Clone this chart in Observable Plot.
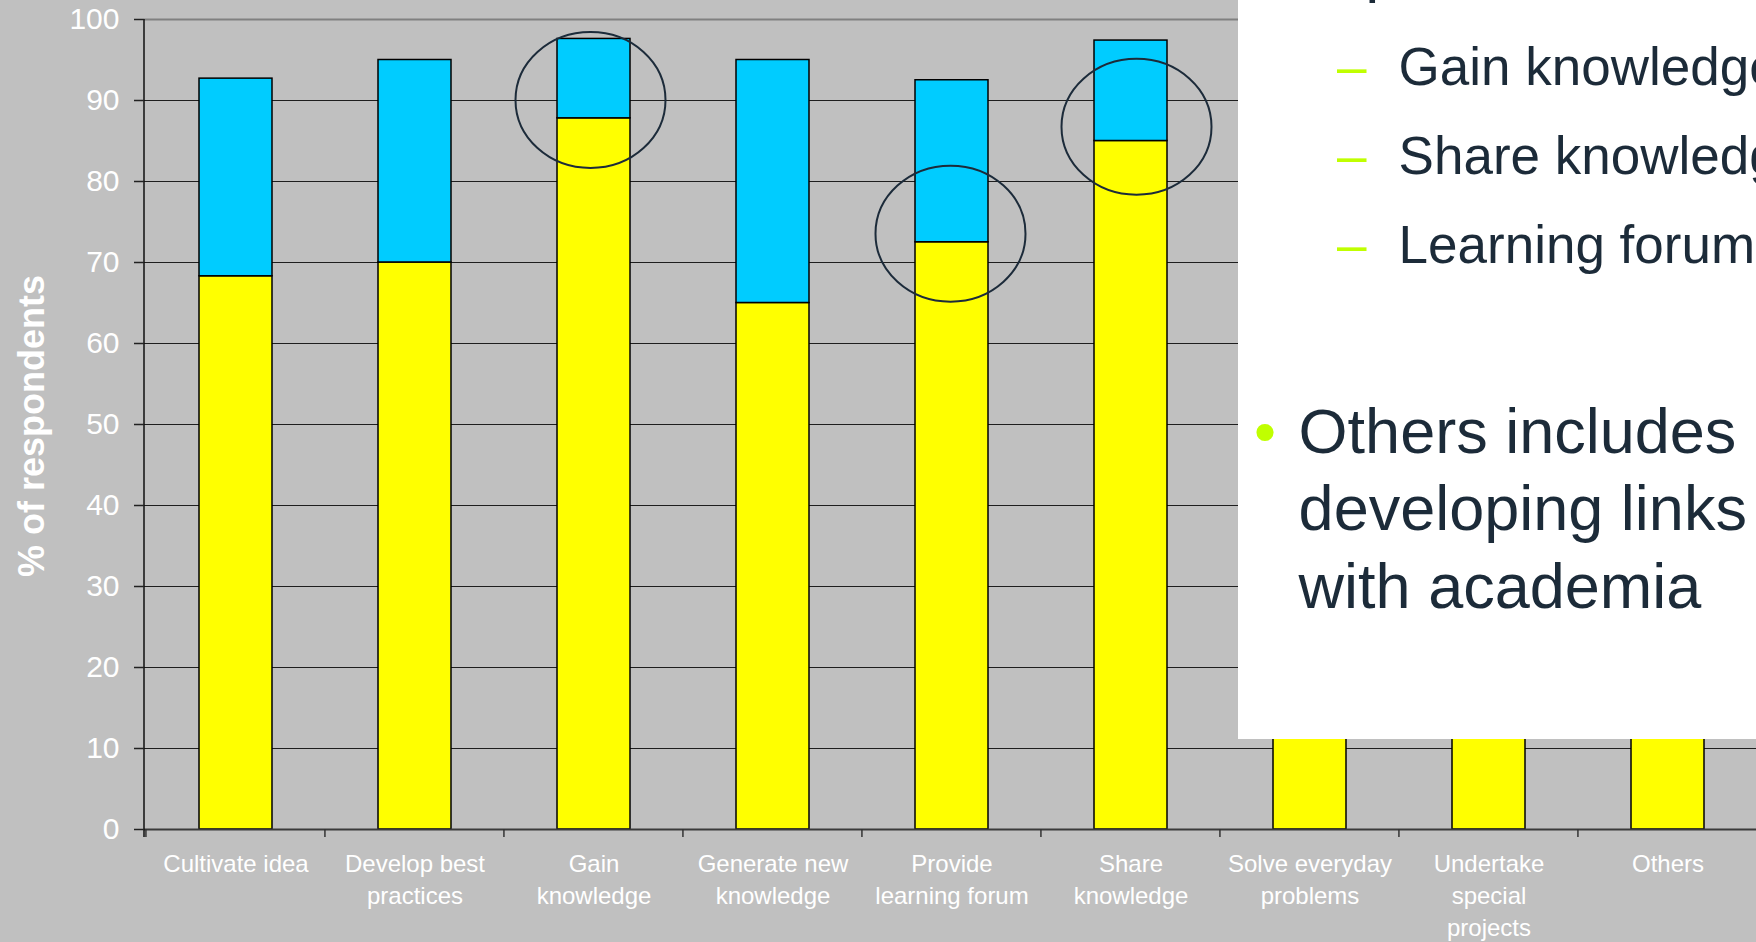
<!DOCTYPE html>
<html>
<head>
<meta charset="utf-8">
<script src="https://cdn.jsdelivr.net/npm/d3@7"></script>
<script src="https://cdn.jsdelivr.net/npm/@observablehq/plot@0.6"></script>
<style>
  html, body { margin: 0; padding: 0; background: #c0c0c0; width: 1756px; height: 942px; overflow: hidden; }
  #chart { position: absolute; left: 0; top: 0; width: 1760px; }
  #chart svg { max-width: none !important; display: block; }
  #note { position: absolute; left: 1238px; top: 0; }
</style>
</head>
<body>
<div id="chart"></div>
<svg id="note" width="518" height="739"></svg>
<script>
// ---- data ----
const categories = [
  "Cultivate idea", "Develop best practices", "Gain knowledge", "Generate new knowledge",
  "Provide learning forum", "Share knowledge", "Solve everyday problems",
  "Undertake special projects", "Others"
];
const tickLabels = [
  "Cultivate idea", "Develop best\npractices", "Gain\nknowledge", "Generate new\nknowledge",
  "Provide\nlearning forum", "Share\nknowledge", "Solve everyday\nproblems",
  "Undertake\nspecial\nprojects", "Others"
];
// yellow (lower) segment, % of respondents
const primary   = [68.3, 70.0, 87.8, 65.0, 72.5, 85.0, 45.0, 35.0, 15.0];
// cyan (upper) segment, % of respondents (last three hidden behind the text box; estimates)
const secondary = [24.4, 25.0,  9.8, 30.0, 20.0, 12.4, 30.0, 40.0,  5.0];
const seriesNames = ["Primary", "Secondary"];
const yTicks = [0, 10, 20, 30, 40, 50, 60, 70, 80, 90, 100];
const yTitle = "% of respondents";
// circled annotations: category and value at the ellipse centre
const highlightCats   = ["Gain knowledge", "Provide learning forum", "Share knowledge"];
const highlightValues = [90.0, 73.5, 86.7];
// overlapping text box
const noteTop  = "Top 3";
const noteSub  = ["Gain knowledge", "Share knowledge", "Learning forum"];
const noteMain = ["Others includes", "developing links", "with academia"];

// ---- build ----
const rows = categories.flatMap((c, i) => [
  {category: c, series: seriesNames[0], value: primary[i]},
  {category: c, series: seriesNames[1], value: secondary[i]}
]);

function boundaryTicks(index, scales, values, dims) {
  const x = scales.x, y = scales.y;
  const n = categories.length;
  const step = x.step ? x.step() : (dims.width - dims.marginLeft - dims.marginRight) / n;
  const pi = x.paddingInner ? x.paddingInner() : 0.593;
  const g = d3.create("svg:g");
  const y0 = y(0);
  categories.forEach(c => {
    const bx = x(c) - step * pi / 2;
    g.append("line").attr("x1", bx).attr("x2", bx).attr("y1", y0).attr("y2", y0 + 8)
      .attr("stroke", "#333").attr("stroke-width", 1.5);
  });
  g.append("line").attr("x1", dims.marginLeft).attr("x2", dims.marginLeft)
    .attr("y1", y(100)).attr("y2", y0 + 8).attr("stroke", "#111").attr("stroke-width", 1.5);
  return g.node();
}

// hand-drawn ellipses are slightly off-centre in the original
const ellipseDx = [-3, -1, 6];
function highlightEllipses(index, scales) {
  const g = d3.create("svg:g");
  const bw = scales.x.bandwidth ? scales.x.bandwidth() : 73;
  highlightCats.forEach((c, i) => {
    g.append("ellipse")
      .attr("cx", scales.x(c) + bw / 2 + ellipseDx[i])
      .attr("cy", scales.y(highlightValues[i]))
      .attr("rx", 75).attr("ry", 68)
      .attr("fill", "none").attr("stroke", "#1c2b3a").attr("stroke-width", 2);
  });
  return g.node();
}

const chart = Plot.plot({
  width: 1760,
  height: 942,
  marginTop: 19,
  marginBottom: 113,
  marginLeft: 144,
  marginRight: 1,
  style: {background: "#c0c0c0", fontFamily: "'Liberation Sans', Arial, sans-serif", overflow: "visible"},
  x: {domain: categories, paddingInner: 0.593, paddingOuter: 0.2965},
  y: {domain: [0, 100]},
  color: {domain: seriesNames, range: ["#ffff00", "#00ccff"]},
  marks: [
    Plot.ruleY(yTicks.filter(t => t > 0 && t < 100), {stroke: "#1e1e1e", strokeWidth: 1.2}),
    Plot.ruleY([100], {stroke: "#808080", strokeWidth: 2}),
    Plot.barY(rows, {x: "category", y: "value", fill: "series", stroke: "#000", strokeWidth: 1.5}),
    Plot.ruleY([0], {stroke: "#3a3a3a", strokeWidth: 2}),
    boundaryTicks,
    highlightEllipses,
    Plot.axisY({ticks: yTicks, tickSize: 10, tickPadding: 15, fontSize: 30, fill: "white",
                stroke: "#222", strokeWidth: 1.5, label: null}),
    Plot.axisX({tickSize: 0, tickPadding: 20, fontSize: 24, fill: "white", lineHeight: 1.33,
                tickFormat: d => tickLabels[categories.indexOf(d)], label: null}),
    Plot.text([yTitle], {frameAnchor: "left", dx: -100.5, dy: 1.6, rotate: -90, lineAnchor: "bottom",
                         textAnchor: "middle",
                         fontSize: 36, fontWeight: "bold", fill: "white", text: d => d})
  ]
});
document.getElementById("chart").appendChild(chart);

// ---- overlapping text box ----
const note = d3.select("#note");
const ink = "#1c2b39", lime = "#c0ff00";
note.append("rect").attr("x", 0).attr("y", 0).attr("width", 518).attr("height", 739).attr("fill", "white");
const fontFam = "'Liberation Sans', Arial, sans-serif";
note.append("text").attr("x", 60.6).attr("y", -10).attr("font-size", 63).attr("font-family", fontFam)
  .attr("fill", ink).text(noteTop);
noteSub.forEach((t, i) => {
  const by = 85 + i * 89;
  note.append("text").attr("x", 99).attr("y", by).attr("font-size", 53).attr("font-family", fontFam)
    .attr("fill", lime).text("–");
  note.append("text").attr("x", 160.6).attr("y", by).attr("font-size", 53).attr("font-family", fontFam)
    .attr("fill", ink).text(t);
});
note.append("text").attr("x", 16).attr("y", 453).attr("font-size", 63).attr("font-family", fontFam)
  .attr("fill", lime).text("•");
noteMain.forEach((t, i) => {
  note.append("text").attr("x", 60.6).attr("y", 453 + i * 77.3).attr("font-size", 63).attr("font-family", fontFam)
    .attr("fill", ink).text(t);
});
</script>
</body>
</html>
